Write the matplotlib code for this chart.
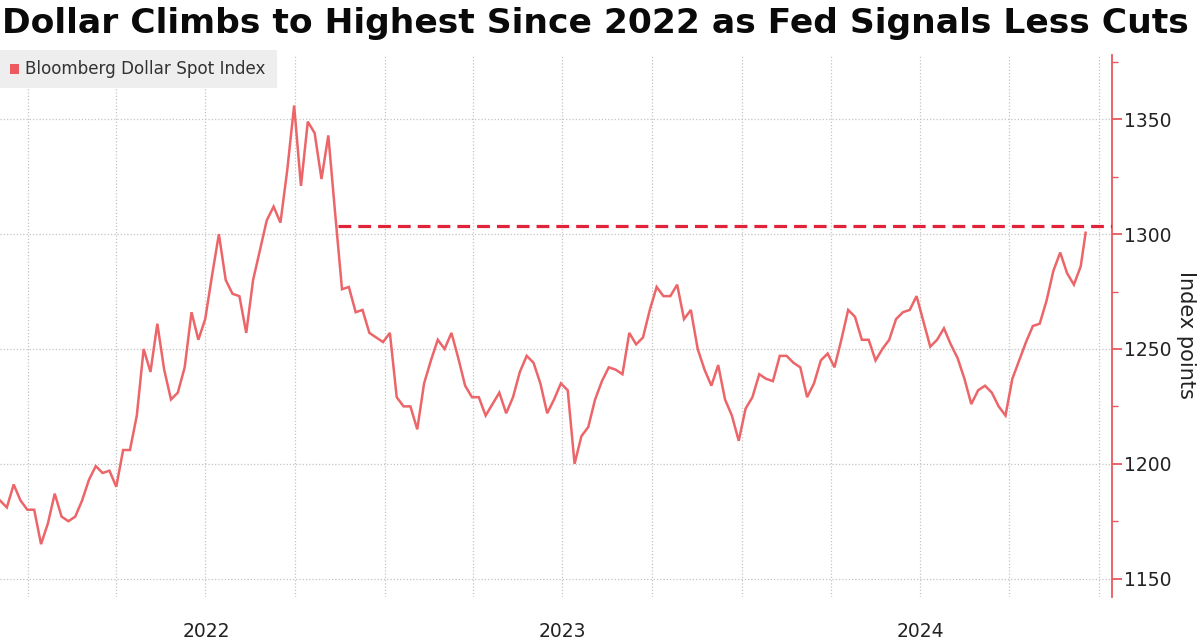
import matplotlib
matplotlib.use("Agg")
import matplotlib.pyplot as plt
from matplotlib.patches import Rectangle
from matplotlib.ticker import MultipleLocator, NullFormatter
import pandas as pd

# ---------------- data (weekly readings of the Bloomberg Dollar Spot Index) ----------------
week_start = "2021-12-03"
index_values = [
    1184, 1181, 1191, 1184, 1180, 1180, 1165, 1174, 1187, 1177,
    1175, 1177, 1184, 1193, 1199, 1196, 1197, 1190, 1206, 1206,
    1221, 1250, 1240, 1261, 1241, 1228, 1231, 1242, 1266, 1254,
    1263, 1282, 1300, 1280, 1274, 1273, 1257, 1280, 1293, 1306,
    1312, 1305, 1328, 1356, 1321, 1349, 1344, 1324, 1343, 1309,
    1276, 1277, 1266, 1267, 1257, 1255, 1253, 1257, 1229, 1225,
    1225, 1215, 1235, 1245, 1254, 1250, 1257, 1246, 1234, 1229,
    1229, 1221, 1226, 1231, 1222, 1229, 1240, 1247, 1244, 1235,
    1222, 1228, 1235, 1232, 1200, 1212, 1216, 1228, 1236, 1242,
    1241, 1239, 1257, 1252, 1255, 1267, 1277, 1273, 1273, 1278,
    1263, 1267, 1250, 1241, 1234, 1243, 1228, 1221, 1210, 1224,
    1229, 1239, 1237, 1236, 1247, 1247, 1244, 1242, 1229, 1235,
    1245, 1248, 1242, 1254, 1267, 1264, 1254, 1254, 1245, 1250,
    1254, 1263, 1266, 1267, 1273, 1262, 1251, 1254, 1259, 1252,
    1246, 1237, 1226, 1232, 1234, 1231, 1225, 1221, 1237, 1245,
    1253, 1260, 1261, 1271, 1284, 1292, 1283, 1278, 1286,
]
last_date = "2024-12-18"
last_value = 1300.6

highlight_level = 1303.4
highlight_start = "2022-11-14"

title_text = "Dollar Climbs to Highest Since 2022 as Fed Signals Less Cuts"
series_name = "Bloomberg Dollar Spot Index"
y_label = "Index points"
y_ticks = [1150, 1200, 1250, 1300, 1350]
year_labels = ["2022", "2023", "2024"]

# ---------------- build series ----------------
dates = list(pd.date_range(week_start, periods=len(index_values), freq="7D"))
dates.append(pd.Timestamp(last_date))
values = index_values + [last_value]

# ---------------- figure ----------------
W, H = 1200, 643
fig = plt.figure(figsize=(W / 100, H / 100), dpi=100)
fig.patch.set_facecolor("white")

ax = fig.add_axes([0.0, 1 - 597 / H, 1112 / W, (597 - 55) / H])
ax.set_facecolor("white")

line_color = "#ec6569"
ax.plot(dates, values, color=line_color, lw=1.8, solid_joinstyle="miter", zorder=3)

ax.hlines(highlight_level, pd.Timestamp(highlight_start), pd.Timestamp("2025-01-20"),
          colors="#e1233a", lw=2.3, linestyles=(0, (4, 2.2)), zorder=4)

ax.set_xlim(pd.Timestamp("2021-12-03"), pd.Timestamp("2025-01-14"))
ax.set_ylim(1142, 1378)

# spines
for s in ["left", "top", "bottom"]:
    ax.spines[s].set_visible(False)
ax.spines["right"].set_color("#e8575c")
ax.spines["right"].set_linewidth(1.3)

# y axis on right
ax.yaxis.tick_right()
ax.set_yticks(y_ticks)
ax.set_yticklabels([str(v) for v in y_ticks])
ax.yaxis.set_minor_locator(MultipleLocator(25))
ax.tick_params(axis="y", which="major", direction="out", length=7, width=1.3,
               color="#e8575c", labelsize=13.5, labelcolor="#222222", pad=1.5)
ax.tick_params(axis="y", which="minor", direction="out", length=4, width=1.0,
               color="#e8575c")
fig.text(1186 / W, 1 - 335 / H, y_label, rotation=270, fontsize=15, color="#222222",
         ha="center", va="center")

# x axis: quarter gridlines, year labels centred mid-year
quarter_ticks = pd.date_range("2022-01-01", "2025-01-01", freq="QS")
ax.set_xticks(quarter_ticks)
ax.xaxis.set_major_formatter(NullFormatter())
year_centres = [pd.Timestamp(f"{y}-07-02") for y in year_labels]
ax.set_xticks(year_centres, minor=True)
ax.set_xticklabels(year_labels, minor=True)
ax.tick_params(axis="x", which="major", length=0)
ax.tick_params(axis="x", which="minor", length=0, labelsize=13.5,
               labelcolor="#222222", pad=18)

grid_kw = dict(color="#c4c4c4", lw=0.9, linestyle=(0, (1, 1.6)))
ax.grid(True, axis="y", which="major", **grid_kw)
ax.grid(True, axis="x", which="major", **grid_kw)
ax.set_axisbelow(True)

# ---------------- title ----------------
t = fig.text(2 / W, 1 - 23 / H, title_text, fontsize=24, fontweight="bold",
             color="#0a0a0a", va="center", ha="left", family="DejaVu Sans")
fig.canvas.draw()
bb = t.get_window_extent()
t.set_fontsize(24 * 1186 / bb.width)

# ---------------- legend box ----------------
fig.patches.append(Rectangle((0, 1 - 88 / H), 277 / W, 38 / H, transform=fig.transFigure,
                             facecolor="#eeeeee", edgecolor="none", zorder=5))
fig.patches.append(Rectangle((10 / W, 1 - 74 / H), 9 / W, 10 / H, transform=fig.transFigure,
                             facecolor="#ec5a5f", edgecolor="none", zorder=6))
lt = fig.text(25 / W, 1 - 69 / H, series_name, fontsize=12, color="#333333",
              va="center", ha="left", zorder=7)
fig.canvas.draw()
bb = lt.get_window_extent()
lt.set_fontsize(12 * 240 / bb.width)

fig.savefig("out.png", dpi=100, facecolor="white")
